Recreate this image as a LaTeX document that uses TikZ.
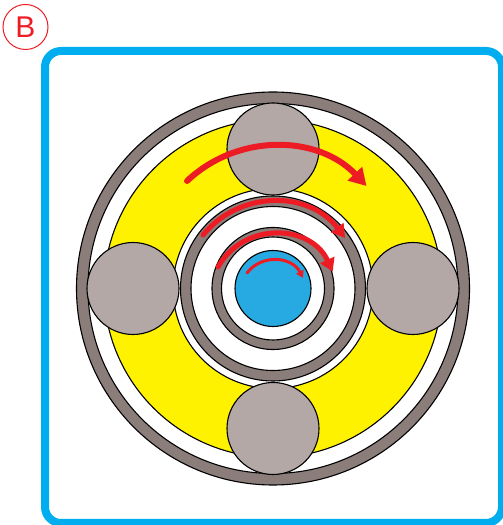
\documentclass[tikz,border=0pt]{standalone}
\usepackage{fontspec}
\setmainfont{Liberation Sans}
\usetikzlibrary{arrows.meta}
\definecolor{frameblue}{HTML}{00AEEF}
\definecolor{shaftblue}{HTML}{27AAE1}
\definecolor{ringgray}{HTML}{8A7D7A}
\definecolor{ballgray}{HTML}{B3A8A5}
\definecolor{raceyellow}{HTML}{FFF200}
\definecolor{spinred}{HTML}{ED1C24}
\begin{document}
\begin{tikzpicture}[
  x=1pt, y=1pt,
  disc/.style={circle, draw=black, line width=1.1pt, inner sep=0pt, outer sep=0pt},
  ring/.style={disc, fill=ringgray},
  gap/.style={disc, fill=white},
  ball/.style={disc, fill=ballgray, minimum size=92pt},
  spin/.style={draw=spinred, line cap=round}
]
\useasboundingbox (0,0) rectangle (503,525);
\coordinate (mid) at (273,236.5);
\draw[frameblue, line width=8pt, rounded corners=16pt] (45,2) rectangle (502,474);
% rings, outermost first
\node[ring, minimum size=393pt] (housing) at (mid) {};
\node[gap, minimum size=370pt] (housingin) at (mid) {};
\node[disc, fill=raceyellow, minimum size=338pt] (race) at (mid) {};
\node[gap, minimum size=200pt] (racein) at (mid) {};
\node[ring, minimum size=185pt] (sleeve) at (mid) {};
\node[gap, minimum size=164pt] (sleevein) at (mid) {};
\node[ring, minimum size=122pt] (collar) at (mid) {};
\node[gap, minimum size=103pt] (collarin) at (mid) {};
\node[disc, fill=shaftblue, minimum size=76pt] (shaft) at (mid) {};
% balls
\node[ball] (balltop) at (273,376) {};
\node[ball] (ballbottom) at (273,96.5) {};
\node[ball] (ballleft) at (133,236.5) {};
\node[ball] (ballright) at (413,236.5) {};
% arrows
\coordinate (a1) at (187,344);
\coordinate (a2) at (366.5,339);
\coordinate (b1) at (203,290);
\coordinate (b2) at (345,287);
\coordinate (c1) at (218,258);
\coordinate (c2) at (332.7,253.3);
\coordinate (d1) at (247,252);
\coordinate (d2) at (303,247);
\draw[spin, line width=6pt, -{Triangle[length=17pt, width=19pt]}] (a1) to[bend left=45] (a2);
\draw[spin, line width=5pt, -{Triangle[length=13pt, width=15pt]}] (b1) to[bend left=52, looseness=1.06] (b2);
\draw[spin, line width=5pt, -{Triangle[length=13pt, width=15pt]}] (c1) to[bend left=63, looseness=1.17] (c2);
\draw[spin, line width=3pt, -{Triangle[length=7pt, width=8pt]}] (d1) to[bend left=58, looseness=1.1] (d2);
% panel letter
\node[circle, draw=spinred, line width=1pt, minimum size=45pt, inner sep=0pt, text=spinred, font=\fontsize{30}{30}\selectfont] (tag) at (25.5,498) {B};
\end{tikzpicture}
\end{document}
